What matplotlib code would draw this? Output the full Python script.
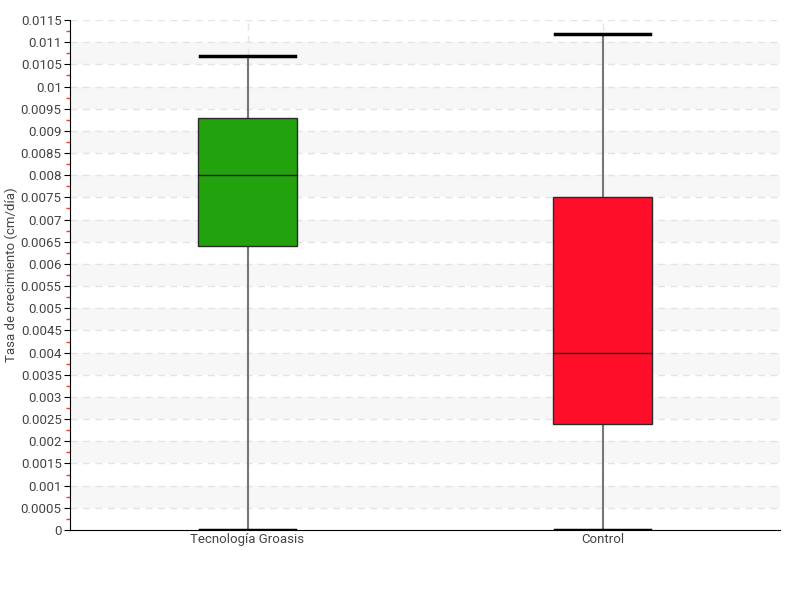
import numpy as np
import matplotlib.pyplot as plt

# Box statistics (cm/day)
categories = ['Tecnología Groasis', 'Control']
whisker_low = [0.0, 0.0]
q1 = [0.0064, 0.0024]
median = [0.0080, 0.0040]
q3 = [0.0093, 0.0075]
whisker_high = [0.01068, 0.01118]
box_colors = ['#22a30e', '#ff0e2a']

yticks = np.arange(0, 0.0115 + 1e-9, 0.0005)
ytick_labels = ['0', '0.0005', '0.001', '0.0015', '0.002', '0.0025', '0.003', '0.0035',
                '0.004', '0.0045', '0.005', '0.0055', '0.006', '0.0065', '0.007', '0.0075',
                '0.008', '0.0085', '0.009', '0.0095', '0.01', '0.0105', '0.011', '0.0115']

plt.rcParams['font.family'] = ['Roboto', 'DejaVu Sans']

fig = plt.figure(figsize=(8, 6), dpi=100)
ax = fig.add_axes([70 / 800, 70 / 600, 710 / 800, 510 / 600])

# alternating bands
for i in range(1, len(yticks) - 1, 2):
    ax.axhspan(yticks[i], yticks[i + 1], color='#f7f7f7', zorder=0, lw=0)
for y in yticks[1:]:
    ax.axhline(y, color='#e4e4e4', lw=1, ls=(0, (5, 4)), zorder=0.5)

pos = np.arange(len(categories))
for x in pos:
    ax.axvline(x, color='#e4e4e4', lw=1, ls=(0, (5, 4)), zorder=0.5)

stats = []
for i, c in enumerate(categories):
    stats.append({'label': c, 'whislo': whisker_low[i], 'q1': q1[i], 'med': median[i],
                  'q3': q3[i], 'whishi': whisker_high[i], 'fliers': []})

bp = ax.bxp(stats, positions=pos, widths=0.28, patch_artist=True, showfliers=False,
            boxprops=dict(edgecolor='#2a2a2a', linewidth=1),
            medianprops=dict(color='#1a1a1a', linewidth=1),
            whiskerprops=dict(color='#777777', linewidth=1.5),
            capprops=dict(color='black', linewidth=2.5),
            capwidths=0.27)
for patch, col in zip(bp['boxes'], box_colors):
    patch.set_facecolor(col)
    patch.set_zorder(3)
for m in bp['medians']:
    m.set_zorder(4)

ax.set_xlim(-0.5, 1.5)
ax.set_ylim(0, 0.0115)
ax.set_yticks(yticks)
ax.set_yticklabels(ytick_labels)
ax.set_yticks(yticks[:-1] + 0.00025, minor=True)
ax.tick_params(axis='y', which='major', length=4, color='black', labelsize=9.5, labelcolor='#444444', pad=2)
ax.tick_params(axis='y', which='minor', length=3, color='#ff3333', width=1)
ax.tick_params(axis='x', length=0, labelsize=9.5, labelcolor='#444444', pad=2)

for s in ['top', 'right']:
    ax.spines[s].set_visible(False)
ax.spines['left'].set_color('black')
ax.spines['bottom'].set_color('black')

ax.set_ylabel('Tasa de crecimiento (cm/día)', fontsize=9.5, color='#444444')
ax.yaxis.set_label_coords(-52 / 710, 0.5)

fig.savefig('out.png', dpi=100, facecolor='white')
